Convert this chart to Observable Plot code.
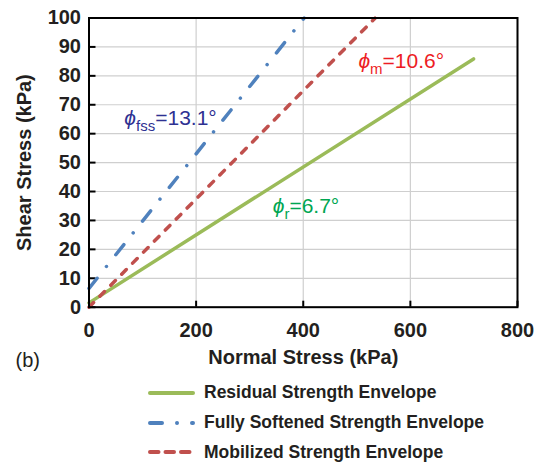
<!DOCTYPE html>
<html>
<head>
<meta charset="utf-8">
<script src="https://cdn.jsdelivr.net/npm/d3@7"></script>
<script src="https://cdn.jsdelivr.net/npm/@observablehq/plot@0.6"></script>
<style>
  html, body { margin: 0; padding: 0; background: #fff; }
  body { font-family: "Liberation Sans", Arial, Helvetica, sans-serif; color: #231f20; }
  #wrap { position: relative; width: 536px; height: 465px; overflow: hidden; }
  #legend { position: absolute; left: 148px; top: 378px; }
  .row { display: flex; align-items: center; height: 29.8px; }
  .row svg { display: block; margin-right: 9px; }
  .row span { font-size: 17.5px; font-weight: bold; white-space: nowrap; }
</style>
</head>
<body>
<div id="wrap"><div id="chart"></div><div id="legend"></div></div>
<script>
// Strength envelopes: tau = c + sigma * tan(phi)
const envelopeNames = ["Residual Strength Envelope", "Fully Softened Strength Envelope", "Mobilized Strength Envelope"];
const envelopeKeys = ["r", "fss", "m"];
const frictionAngle = [6.7, 13.1, 10.6];   // degrees
const cohesionIntercept = [1.5, 6.5, 0];    // kPa
const maxNormalStress = [718, 401.8, 534];  // kPa, end of each drawn envelope

// Axis tick values
const xTicks = [0, 200, 400, 600, 800];
const yTicks = [0, 10, 20, 30, 40, 50, 60, 70, 80, 90, 100];

// Angle annotations (anchored in data coordinates)
const labelNormal = [343, 66, 503];
const labelShear = [34.8, 65.4, 85.2];

// Styles per envelope
const lineColor = ["#9bbb59", "#4f81bd", "#c0504d"];
const lineDash = [null, "13,15,0.01,15", "6.5,9"];
const legendDash = [null, "12,15,0.01,15", "8.5,7"];
const labelColor = ["#00a651", "#2e3192", "#ed1c24"];

const W = 536, H = 370;
const M = {top: 17.5, right: 19, bottom: 63.3, left: 88.5};
const plotW = W - M.left - M.right, plotH = H - M.top - M.bottom;

const lineData = envelopeNames.flatMap((name, i) =>
  [0, maxNormalStress[i]].map(s => ({
    name, i,
    normal: s,
    shear: cohesionIntercept[i] + s * Math.tan(frictionAngle[i] * Math.PI / 180)
  }))
);

const labels = envelopeKeys.map((k, i) => ({
  key: k, i,
  normal: labelNormal[i],
  shear: labelShear[i],
  text: `\u03D5${k}=${frictionAngle[i].toFixed(1)}\u00B0`
}));

const lineMarks = envelopeNames.map((name, i) =>
  Plot.line(lineData.filter(d => d.i === i), {
    x: "normal", y: "shear",
    stroke: lineColor[i], strokeWidth: 3.5,
    strokeDasharray: lineDash[i] ?? undefined,
    strokeLinecap: "round"
  })
);

const chart = Plot.plot({
  width: W, height: H,
  marginTop: M.top, marginRight: M.right, marginBottom: M.bottom, marginLeft: M.left,
  x: {domain: [0, 800]},
  y: {domain: [0, 100]},
  style: {
    fontFamily: '"Liberation Sans", Arial, Helvetica, sans-serif',
    fontWeight: "bold",
    color: "#231f20",
    background: "white",
    overflow: "visible"
  },
  marks: [
    Plot.gridX(xTicks, {stroke: "#cfcfcf", strokeOpacity: 1, strokeWidth: 1.2}),
    Plot.gridY(yTicks, {stroke: "#cfcfcf", strokeOpacity: 1, strokeWidth: 1.2}),
    Plot.tickX(xTicks, {x: d => d, insetTop: plotH - 6, stroke: "#000", strokeWidth: 2}),
    Plot.tickY(yTicks, {y: d => d, insetRight: plotW - 7, stroke: "#000", strokeWidth: 2}),
    ...lineMarks,
    Plot.frame({stroke: "#000", strokeWidth: 2}),
    Plot.axisX(xTicks, {
      tickSize: 0, tickPadding: 16, fontSize: 20, fontWeight: "bold",
      label: "Normal Stress (kPa)", labelAnchor: "center", labelOffset: 57, labelArrow: "none"
    }),
    Plot.axisY(yTicks, {
      tickSize: 0, tickPadding: 8, fontSize: 20, fontWeight: "bold",
      label: "Shear Stress (kPa)", labelAnchor: "center", labelOffset: 72, labelArrow: "none"
    }),
    Plot.text(labels, {
      x: "normal", y: "shear", text: "text",
      fill: d => labelColor[d.i], textAnchor: "start", lineAnchor: "middle",
      fontSize: 21, fontWeight: "normal", className: "phi-label"
    }),
    Plot.text(["(b)"], {
      frameAnchor: "bottom-left", dx: -73.5, dy: 52.9,
      textAnchor: "start", lineAnchor: "middle",
      fontSize: 20, fontWeight: "normal", fill: "#231f20"
    })
  ]
});

// Typeset the friction-angle labels: italic phi with a subscript
d3.select(chart).selectAll(".phi-label text").each(function(i) {
  const d = labels[i];
  const t = d3.select(this).text(null);
  t.append("tspan").attr("font-style", "italic").text("\u03D5");
  t.append("tspan").attr("font-size", 15).attr("dy", 6).text(d.key);
  t.append("tspan").attr("dy", -6).text(`=${frictionAngle[d.i].toFixed(1)}\u00B0`);
});

document.getElementById("chart").appendChild(chart);

// Legend below the chart
const legend = d3.select("#legend");
envelopeNames.forEach((name, i) => {
  const row = legend.append("div").attr("class", "row");
  const s = row.append("svg").attr("width", 47).attr("height", 10);
  s.append("line")
    .attr("x1", 2).attr("x2", 45).attr("y1", 5).attr("y2", 5)
    .attr("stroke", lineColor[i]).attr("stroke-width", 4)
    .attr("stroke-linecap", "round")
    .attr("stroke-dasharray", legendDash[i]);
  row.append("span").text(name);
});
</script>
</body>
</html>
